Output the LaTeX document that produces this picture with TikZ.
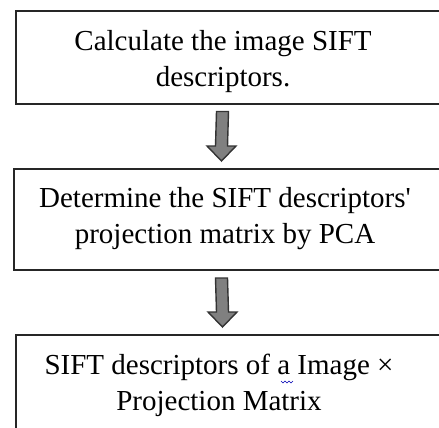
\documentclass[tikz,border=0pt]{standalone}
\usepackage{fontspec}
\setmainfont{Liberation Serif}[Ligatures=TeXOff]
\usetikzlibrary{calc}
\begin{document}
\begin{tikzpicture}[x=1pt,y=-1pt,
  boxnode/.style={draw=black!85, line width=2pt, rectangle, inner sep=0pt},
  txt/.style={align=center, inner sep=0pt, anchor=north, text=black,
    font=\fontsize{29}{36}\selectfont},
  blockarrow/.style={draw=black!80, fill=black!50, line width=1.4pt, line join=miter},
  squiggle/.style={draw=blue!70!black, line width=0.6pt}]
\useasboundingbox (0,0) rectangle (439,428);
% boxes (right side runs past the page edge)
\node[boxnode, minimum width=430pt, minimum height=92pt] (b1) at (231,57.5) {};
\node[boxnode, minimum width=432pt, minimum height=101pt] (b2) at (230,219.5) {};
\node[boxnode, minimum width=430pt, minimum height=120pt] (b3) at (231,395) {};
% texts
\node[txt] (t1) at (223,30) {Calculate the image SIFT\\descriptors.};
\node[txt] (t2) at (225,187) {Determine the SIFT descriptors'\\projection matrix by PCA};
\node[txt] (t3) at (219,354) {SIFT descriptors of a Image ×\\Projection Matrix};
% grammar squiggle under "a"
\draw[squiggle] (281,381) -- (283,383) -- (285,381) -- (287,383) -- (289,381) -- (291,383) -- (293,381);
% block arrows
\foreach \a/\b/\n in {b1/b2/a1, b2/b3/a2}{
  \coordinate (\n s) at ($(\a.south)+(-8.5,7)$);
  \coordinate (\n e) at ($(\b.north)+(-8.5,-7)$);
  \draw[blockarrow]
    ($(\n s)+(-6,0)$) -- ($(\n s)+(6,0)$) -- ($(\n e)+(6,-15)$) -- ($(\n e)+(14.5,-15)$)
    -- (\n e) -- ($(\n e)+(-14.5,-15)$) -- ($(\n e)+(-6,-15)$) -- cycle;
}
\end{tikzpicture}
\end{document}
